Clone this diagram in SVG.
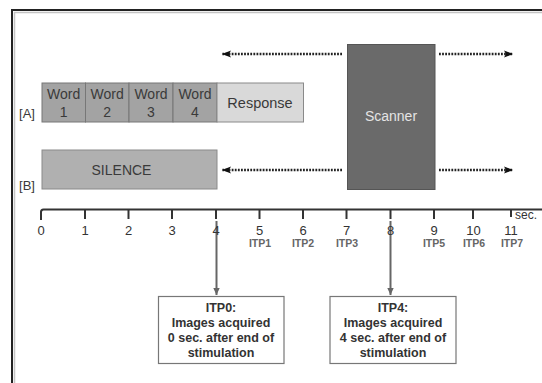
<svg xmlns="http://www.w3.org/2000/svg" width="542" height="383" viewBox="0 0 542 383">
<style>
.t{font-family:"Liberation Sans",Arial,sans-serif;fill:#3a3a3a;font-size:14px;text-anchor:middle}
.n{font-family:"Liberation Sans",Arial,sans-serif;fill:#333;font-size:13px;text-anchor:middle}
.itp{font-family:"Liberation Sans",Arial,sans-serif;fill:#666;font-size:10.5px;font-weight:bold;text-anchor:middle}
.b{font-family:"Liberation Sans",Arial,sans-serif;fill:#333;font-size:12.5px;font-weight:bold;text-anchor:middle}
.word{fill:#a3a3a3;stroke:#777;stroke-width:1}
.dot{stroke:#222;stroke-width:2.6;stroke-dasharray:1.8 1.3;fill:none}
.tick{stroke:#333;stroke-width:2}
.va{stroke:#666;stroke-width:2;fill:none}
</style>
<defs>
<marker id="ah" markerUnits="userSpaceOnUse" markerWidth="12" markerHeight="10" refX="9" refY="5" orient="auto-start-reverse">
<path d="M0,1.5 L9,5 L0,8.5 L2,5 z" fill="#111"/>
</marker>
<marker id="va" markerUnits="userSpaceOnUse" markerWidth="10" markerHeight="8" refX="7" refY="4" orient="auto">
<path d="M0,0.8 L7,4 L0,7.2 z" fill="#666"/>
</marker>
</defs>
<rect width="542" height="383" fill="#fff"/>
<g id="frame">
<path d="M12,383 V10 H542" fill="none" stroke="#222" stroke-width="2"/>
<path d="M14.5,383 V12.5 H542" fill="none" stroke="#c4c4c4" stroke-width="1.5"/>
</g>
<g id="rowA"><text class="t" x="27" y="118" style="font-size:13px">[A]</text></g>
<g id="word1"><rect class="word" x="42" y="83" width="43.5" height="39"/><text class="t" x="63.7" y="99">Word</text><text class="t" x="63.7" y="117">1</text></g>
<g id="word2"><rect class="word" x="85.5" y="83" width="43.5" height="39"/><text class="t" x="107.2" y="99">Word</text><text class="t" x="107.2" y="117">2</text></g>
<g id="word3"><rect class="word" x="129" y="83" width="44" height="39"/><text class="t" x="151" y="99">Word</text><text class="t" x="151" y="117">3</text></g>
<g id="word4"><rect class="word" x="173" y="83" width="44" height="39" fill="#999"/><text class="t" x="195" y="99">Word</text><text class="t" x="195" y="117">4</text></g>
<g id="response"><rect x="217" y="83" width="86.5" height="39" fill="#d9d9d9" stroke="#8a8a8a" stroke-width="1"/><text class="t" x="260" y="107.5" style="font-size:14.5px">Response</text></g>
<g id="rowB"><text class="t" x="27" y="190" style="font-size:13px">[B]</text></g>
<g id="silence"><rect x="42" y="150" width="175" height="39" fill="#b0b0b0" stroke="#8a8a8a" stroke-width="1"/><text class="t" x="121.5" y="175">SILENCE</text></g>
<g id="scanner"><rect x="347.5" y="44.5" width="87.5" height="145" fill="#6a6a6a" stroke="#555" stroke-width="1"/><text class="t" x="391" y="121" style="fill:#e4e4e4;font-size:14px">Scanner</text></g>
<g id="connectors">
<line class="dot" x1="342" y1="54" x2="222" y2="54" marker-end="url(#ah)"/>
<line class="dot" x1="439" y1="54" x2="513" y2="54" marker-end="url(#ah)"/>
<line class="dot" x1="342" y1="170" x2="222" y2="170" marker-end="url(#ah)"/>
<line class="dot" x1="439" y1="170" x2="513" y2="170" marker-end="url(#ah)"/>
<line class="va" x1="216.5" y1="221" x2="216.5" y2="295" marker-end="url(#va)"/>
<line class="va" x1="390.5" y1="221" x2="390.5" y2="295" marker-end="url(#va)"/>
</g>
<g id="axis">
<path d="M41,220 V212 Q41,209.5 43.5,209.5 H542" fill="none" stroke="#333" stroke-width="2"/>
<line class="tick" x1="85" y1="209" x2="85" y2="219"/>
<line class="tick" x1="128.5" y1="209" x2="128.5" y2="219"/>
<line class="tick" x1="172" y1="209" x2="172" y2="219"/>
<line class="tick" x1="216" y1="209" x2="216" y2="219"/>
<line class="tick" x1="259.5" y1="209" x2="259.5" y2="219"/>
<line class="tick" x1="303" y1="209" x2="303" y2="219"/>
<line class="tick" x1="346.5" y1="209" x2="346.5" y2="219"/>
<line class="tick" x1="390.5" y1="209" x2="390.5" y2="219"/>
<line class="tick" x1="434" y1="209" x2="434" y2="219"/>
<line class="tick" x1="473" y1="209" x2="473" y2="219"/>
<line class="tick" x1="511" y1="209" x2="511" y2="217"/>
<text class="n" x="41" y="235">0</text>
<text class="n" x="85" y="235">1</text>
<text class="n" x="128.5" y="235">2</text>
<text class="n" x="172" y="235">3</text>
<text class="n" x="216" y="235">4</text>
<text class="n" x="259.5" y="235">5</text>
<text class="n" x="303" y="235">6</text>
<text class="n" x="346.5" y="235">7</text>
<text class="n" x="390.5" y="235">8</text>
<text class="n" x="434" y="235">9</text>
<text class="n" x="473.5" y="235">10</text>
<text class="n" x="511" y="235">11</text>
<text class="n" x="515" y="219" style="text-anchor:start;font-size:12px">sec.</text>
<text class="itp" x="260" y="247">ITP1</text>
<text class="itp" x="303" y="247">ITP2</text>
<text class="itp" x="347" y="247">ITP3</text>
<text class="itp" x="434" y="247">ITP5</text>
<text class="itp" x="474" y="247">ITP6</text>
<text class="itp" x="512" y="247">ITP7</text>
</g>
<g id="itp0"><rect x="158.5" y="296.5" width="125.5" height="67" fill="#fff" stroke="#777" stroke-width="1.2"/>
<text class="b" x="221" y="312">ITP0:</text>
<text class="b" x="221" y="327">Images acquired</text>
<text class="b" x="221" y="342">0 sec. after end of</text>
<text class="b" x="221" y="357">stimulation</text></g>
<g id="itp4"><rect x="330" y="296.5" width="126" height="67" fill="#fff" stroke="#777" stroke-width="1.2"/>
<text class="b" x="393" y="312">ITP4:</text>
<text class="b" x="393" y="327">Images acquired</text>
<text class="b" x="393" y="342">4 sec. after end of</text>
<text class="b" x="393" y="357">stimulation</text></g>
</svg>
